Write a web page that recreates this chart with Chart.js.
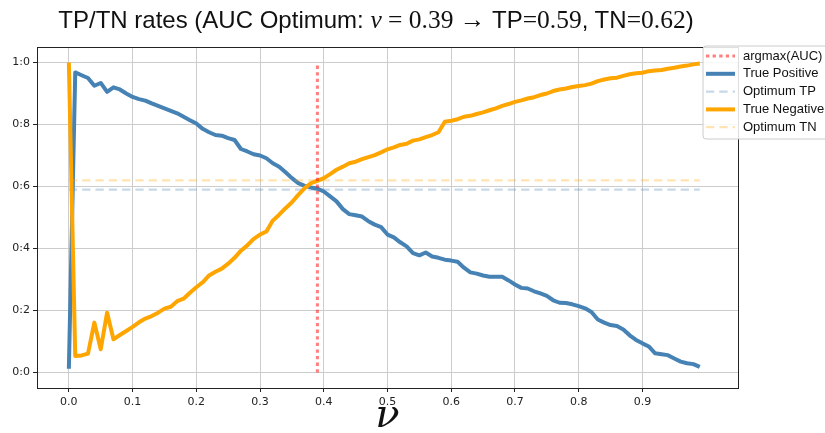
<!DOCTYPE html>
<html>
<head>
<meta charset="utf-8">
<title>TP/TN rates</title>
<script src="https://cdn.jsdelivr.net/npm/chart.js@4.4.1/dist/chart.umd.min.js"></script>
<style>
    body { margin: 0; background: #fff; }
    #wrap { position: relative; width: 825px; height: 433px; }
    #chartTitle {
        position: absolute; left: 0; top: 6px; width: 752px;
        text-align: center; font-size: 24px; line-height: 28px; color: #111; white-space: nowrap;
    }
    #chartTitle .s { font-family: "Liberation Sans", "DejaVu Sans", sans-serif; }
    #chartTitle .m { font-family: "Liberation Serif", "DejaVu Serif", serif; font-size: 25.5px; }
</style>
</head>
<body>
<div id="wrap">
    <canvas id="ratesChart" width="825" height="433"></canvas>
    <div id="chartTitle"><span class="s">TP/TN rates (AUC Optimum: </span><span class="m"><i>ν</i> = 0.39 →</span><span class="s"> TP</span><span class="m">=0.59</span><span class="s">, TN</span><span class="m">=0.62</span><span class="s">)</span></div>
</div>
<script>
// Valores
var nu = [0.00, 0.01, 0.02, 0.03, 0.04, 0.05, 0.06, 0.07, 0.08, 0.09,
          0.10, 0.11, 0.12, 0.13, 0.14, 0.15, 0.16, 0.17, 0.18, 0.19,
          0.20, 0.21, 0.22, 0.23, 0.24, 0.25, 0.26, 0.27, 0.28, 0.29,
          0.30, 0.31, 0.32, 0.33, 0.34, 0.35, 0.36, 0.37, 0.38, 0.39,
          0.40, 0.41, 0.42, 0.43, 0.44, 0.45, 0.46, 0.47, 0.48, 0.49,
          0.50, 0.51, 0.52, 0.53, 0.54, 0.55, 0.56, 0.57, 0.58, 0.59,
          0.60, 0.61, 0.62, 0.63, 0.64, 0.65, 0.66, 0.67, 0.68, 0.69,
          0.70, 0.71, 0.72, 0.73, 0.74, 0.75, 0.76, 0.77, 0.78, 0.79,
          0.80, 0.81, 0.82, 0.83, 0.84, 0.85, 0.86, 0.87, 0.88, 0.89,
          0.90, 0.91, 0.92, 0.93, 0.94, 0.95, 0.96, 0.97, 0.98, 0.99];

var truePositive = [0.012, 0.968, 0.959, 0.950, 0.925, 0.934, 0.905, 0.920, 0.913, 0.900,
                    0.889, 0.882, 0.877, 0.868, 0.860, 0.852, 0.844, 0.836, 0.825, 0.814,
                    0.803, 0.786, 0.775, 0.766, 0.764, 0.756, 0.750, 0.721, 0.713, 0.704,
                    0.700, 0.691, 0.675, 0.664, 0.646, 0.627, 0.611, 0.602, 0.597, 0.593,
                    0.584, 0.568, 0.552, 0.527, 0.511, 0.507, 0.503, 0.488, 0.477, 0.469,
                    0.445, 0.436, 0.420, 0.407, 0.385, 0.378, 0.387, 0.374, 0.370, 0.364,
                    0.361, 0.357, 0.338, 0.323, 0.319, 0.313, 0.309, 0.309, 0.309, 0.297,
                    0.284, 0.273, 0.271, 0.262, 0.255, 0.247, 0.233, 0.225, 0.224, 0.220,
                    0.214, 0.207, 0.195, 0.171, 0.161, 0.153, 0.150, 0.139, 0.120, 0.105,
                    0.094, 0.084, 0.062, 0.059, 0.056, 0.045, 0.035, 0.030, 0.027, 0.018];

var trueNegative = [1.000, 0.053, 0.055, 0.061, 0.161, 0.075, 0.193, 0.107, 0.121, 0.134,
                    0.147, 0.162, 0.174, 0.182, 0.193, 0.206, 0.212, 0.230, 0.238, 0.257,
                    0.275, 0.291, 0.313, 0.325, 0.335, 0.351, 0.370, 0.393, 0.410, 0.431,
                    0.445, 0.455, 0.490, 0.509, 0.530, 0.549, 0.573, 0.595, 0.611, 0.618,
                    0.627, 0.640, 0.654, 0.664, 0.675, 0.680, 0.688, 0.695, 0.701, 0.710,
                    0.720, 0.726, 0.734, 0.738, 0.748, 0.752, 0.759, 0.766, 0.775, 0.809,
                    0.812, 0.817, 0.825, 0.828, 0.834, 0.839, 0.846, 0.852, 0.860, 0.866,
                    0.873, 0.878, 0.884, 0.888, 0.895, 0.900, 0.908, 0.913, 0.916, 0.921,
                    0.924, 0.927, 0.932, 0.940, 0.945, 0.949, 0.951, 0.957, 0.962, 0.965,
                    0.967, 0.972, 0.974, 0.976, 0.980, 0.983, 0.987, 0.990, 0.994, 0.997];

var optimumNu = 0.39;
var optimumTP = 0.59;
var optimumTN = 0.62;

var xTicks = [0.0, 0.1, 0.2, 0.3, 0.4, 0.5, 0.6, 0.7, 0.8, 0.9];
var xTickLabels = ['0.0', '0.1', '0.2', '0.3', '0.4', '0.5', '0.6', '0.7', '0.8', '0.9'];
var yTicks = [0.0, 0.2, 0.4, 0.6, 0.8, 1.0];
var yTickLabels = ['0:0', '0:2', '0:4', '0:6', '0:8', '1:0'];

function toPoints(xs, ys) {
    return xs.map(function (x, i) { return { x: x, y: ys[i] }; });
}

// Marco del gráfico y leyenda dibujada sobre el área (como en matplotlib)
var frameAndLegend = {
    id: 'frameAndLegend',
    afterDraw: function (chart) {
        var ctx = chart.ctx;
        var a = chart.chartArea;
        ctx.save();
        ctx.strokeStyle = '#222';
        ctx.lineWidth = 1;
        ctx.strokeRect(Math.round(a.left) + 0.5, Math.round(a.top) + 0.5,
                       Math.round(a.right - a.left), Math.round(a.bottom - a.top));

        var bx = 703, by = 46, bw = 140, bh = 93, r = 3;
        ctx.beginPath();
        ctx.moveTo(bx + r, by);
        ctx.lineTo(bx + bw - r, by);
        ctx.arcTo(bx + bw, by, bx + bw, by + r, r);
        ctx.lineTo(bx + bw, by + bh - r);
        ctx.arcTo(bx + bw, by + bh, bx + bw - r, by + bh, r);
        ctx.lineTo(bx + r, by + bh);
        ctx.arcTo(bx, by + bh, bx, by + bh - r, r);
        ctx.lineTo(bx, by + r);
        ctx.arcTo(bx, by, bx + r, by, r);
        ctx.closePath();
        ctx.fillStyle = 'rgba(255,255,255,0.85)';
        ctx.fill();
        ctx.strokeStyle = '#cccccc';
        ctx.stroke();

        ctx.font = '13px "Liberation Sans", "DejaVu Sans", sans-serif';
        ctx.textBaseline = 'middle';
        chart.data.datasets.forEach(function (ds, i) {
            var y = 56 + i * 17.8;
            ctx.beginPath();
            ctx.setLineDash(ds.borderDash || []);
            ctx.strokeStyle = ds.borderColor;
            ctx.lineWidth = ds.borderWidth;
            ctx.moveTo(706, y);
            ctx.lineTo(735, y);
            ctx.stroke();
            ctx.setLineDash([]);
            ctx.fillStyle = '#111';
            ctx.fillText(ds.label, 743, y);
        });
        ctx.restore();
    }
};

document.addEventListener("DOMContentLoaded", function () {
    var ctx = document.getElementById('ratesChart').getContext('2d');
    var ratesChart = new Chart(ctx, {
        type: 'line',
        data: {
            datasets: [{
                label: 'argmax(AUC)',
                data: [{ x: optimumNu, y: 0 }, { x: optimumNu, y: 1 }],
                borderColor: 'rgba(255, 0, 0, 0.5)',
                borderWidth: 3,
                borderDash: [3.3, 3.3],
                order: 0
            }, {
                label: 'True Positive',
                data: toPoints(nu, truePositive),
                borderColor: '#4682b4',
                borderWidth: 4,
                order: 4
            }, {
                label: 'Optimum TP',
                data: [{ x: nu[0], y: optimumTP }, { x: nu[nu.length - 1], y: optimumTP }],
                borderColor: 'rgba(70, 130, 180, 0.3)',
                borderWidth: 2.3,
                borderDash: [8.3, 5],
                order: 3
            }, {
                label: 'True Negative',
                data: toPoints(nu, trueNegative),
                borderColor: '#ffa500',
                borderWidth: 4,
                order: 2
            }, {
                label: 'Optimum TN',
                data: [{ x: nu[0], y: optimumTN }, { x: nu[nu.length - 1], y: optimumTN }],
                borderColor: 'rgba(255, 165, 0, 0.3)',
                borderWidth: 2.3,
                borderDash: [8.3, 5],
                order: 1
            }]
        },
        options: {
            responsive: false,
            animation: false,
            layout: { padding: { top: 47, right: 87, bottom: 0, left: 0 } },
            elements: {
                point: { radius: 0 },
                line: { tension: 0, borderCapStyle: 'butt', borderJoinStyle: 'round' }
            },
            plugins: {
                legend: { display: false },
                tooltip: { enabled: false },
                title: { display: false }
            },
            scales: {
                x: {
                    type: 'linear',
                    min: -0.05,
                    max: 1.05,
                    afterBuildTicks: function (scale) {
                        scale.ticks = xTicks.map(function (v) { return { value: v }; });
                    },
                    afterFit: function (scale) { scale.height = 45; },
                    ticks: {
                        autoSkip: false,
                        maxRotation: 0,
                        padding: 4,
                        color: '#222',
                        font: { family: '"DejaVu Sans", sans-serif', size: 11 },
                        callback: function (value, index) { return xTickLabels[index]; }
                    },
                    grid: { color: '#cccccc', lineWidth: 1, tickLength: 4, tickColor: '#222' },
                    border: { display: true, color: '#222' },
                    title: {
                        display: true,
                        text: 'ν',
                        color: '#111',
                        padding: { top: 0, bottom: -8 },
                        font: { family: '"DejaVu Serif", serif', style: 'italic', size: 40 }
                    }
                },
                y: {
                    type: 'linear',
                    min: -0.05,
                    max: 1.05,
                    afterBuildTicks: function (scale) {
                        scale.ticks = yTicks.map(function (v) { return { value: v }; });
                    },
                    afterFit: function (scale) { scale.width = 37; },
                    ticks: {
                        padding: 3,
                        color: '#222',
                        font: { family: '"DejaVu Sans", sans-serif', size: 11 },
                        callback: function (value, index) { return yTickLabels[index]; }
                    },
                    grid: { color: '#cccccc', lineWidth: 1, tickLength: 4, tickColor: '#222' },
                    border: { display: true, color: '#222' }
                }
            }
        },
        plugins: [frameAndLegend]
    });
});
</script>
</body>
</html>
